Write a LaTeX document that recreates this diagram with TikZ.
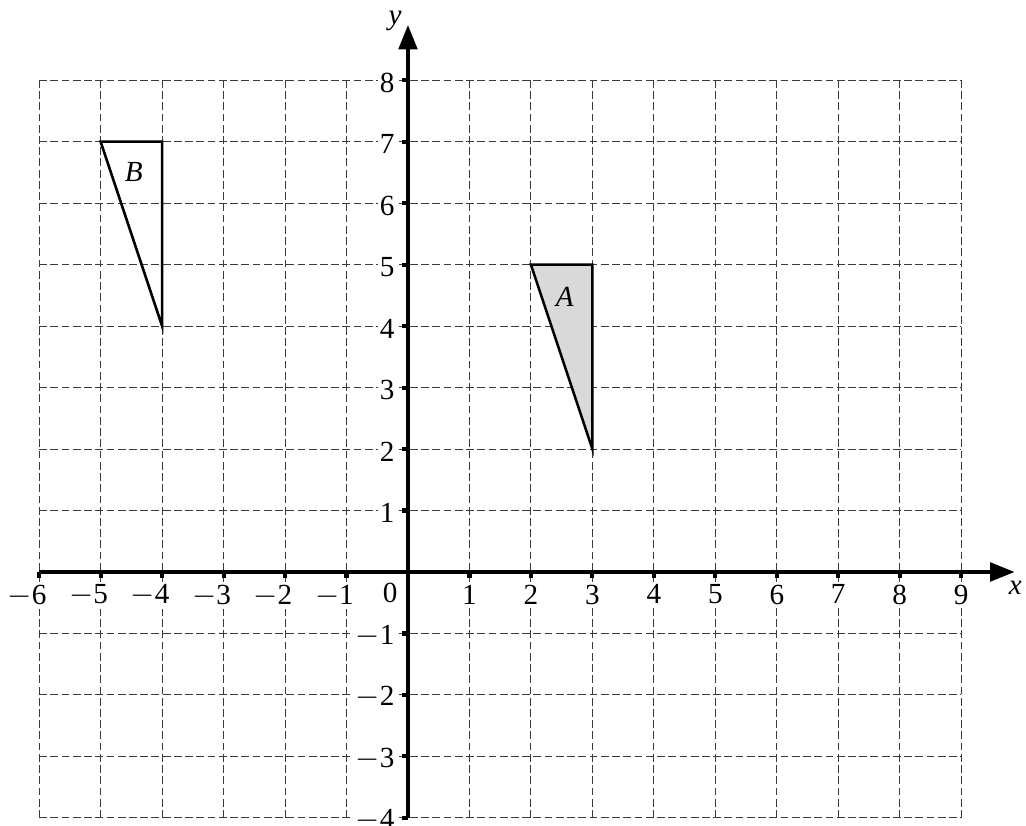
\documentclass[tikz,border=0pt]{standalone}
\usepackage{fontspec}
\setmainfont{Liberation Serif}
\usetikzlibrary{arrows.meta}
\definecolor{gridgray}{HTML}{3A3A3A}
\definecolor{shadeA}{HTML}{D9D9D9}

\begin{document}
\begin{tikzpicture}[
  gridline/.style={gridgray, dash pattern=on 3.6pt off 1.6pt, line width=0.45pt},
  axisline/.style={line width=1.9pt, -{Triangle[length=0.4cm, width=0.3cm]}},
  tickmark/.style={line width=1.9pt},
  numlbl/.style={fill=white, inner sep=1pt, font=\fontsize{13.5}{16}\selectfont},
  shapelbl/.style={font=\fontsize{13.5}{16}\selectfont\itshape},
  tri/.style={line width=1.2pt, line join=miter},
]
\useasboundingbox (-6.637,-4.132) rectangle (10.054,9.305);

% grid
\foreach \x in {-6,...,-1,1,2,...,9}
  \draw[gridline] (\x,-4) -- (\x,8);
\foreach \y in {-4,...,-1,1,2,...,8}
  \draw[gridline] (-6,\y) -- (9,\y);

% shapes
\coordinate (a1) at (2,5);
\coordinate (a2) at (3,5);
\coordinate (a3) at (3,2);
\coordinate (b1) at (-5,7);
\coordinate (b2) at (-4,7);
\coordinate (b3) at (-4,4);
\draw[tri, fill=shadeA] (a1) -- (a2) -- (a3) -- cycle;
\draw[tri] (b1) -- (b2) -- (b3) -- cycle;
\node[shapelbl] (lblA) at (2.55,4.48) {A};
\node[shapelbl] (lblB) at (-4.46,6.51) {B};

% axes
\coordinate (xstart) at (-6,0);
\coordinate (xend) at (9.87,0);
\coordinate (ystart) at (0,-4);
\coordinate (yend) at (0,8.9);
\draw[axisline] (xstart) -- (xend);
\draw[axisline] (ystart) -- (yend);
\node[font=\fontsize{13.5}{16}\selectfont\itshape] (xname) at (9.88,-0.25) {x};
\node[font=\fontsize{13.5}{16}\selectfont\itshape] (yname) at (-0.21,8.96) {y};

% ticks and numbers
\foreach \x in {-6,...,-1}
  \draw[tickmark] (\x,0) -- (\x,-0.1) node[numlbl, anchor=north] (xl\x) at (\x,-0.14) {\llap{$-$}\number-\x};
\foreach \x in {1,...,9}
  \draw[tickmark] (\x,0) -- (\x,-0.1) node[numlbl, anchor=north] (xl\x) at (\x,-0.14) {\x};
\foreach \y in {-4,...,-1,1,2,...,8}
  \draw[tickmark] (0,\y) -- (-0.1,\y) node[numlbl, anchor=east] (yl\y) at (-0.15,\y-0.04) {\ifnum\y<0 $-$\number-\y\else\y\fi};
\node[numlbl] (zero) at (-0.29,-0.34) {0};

\end{tikzpicture}
\end{document}
